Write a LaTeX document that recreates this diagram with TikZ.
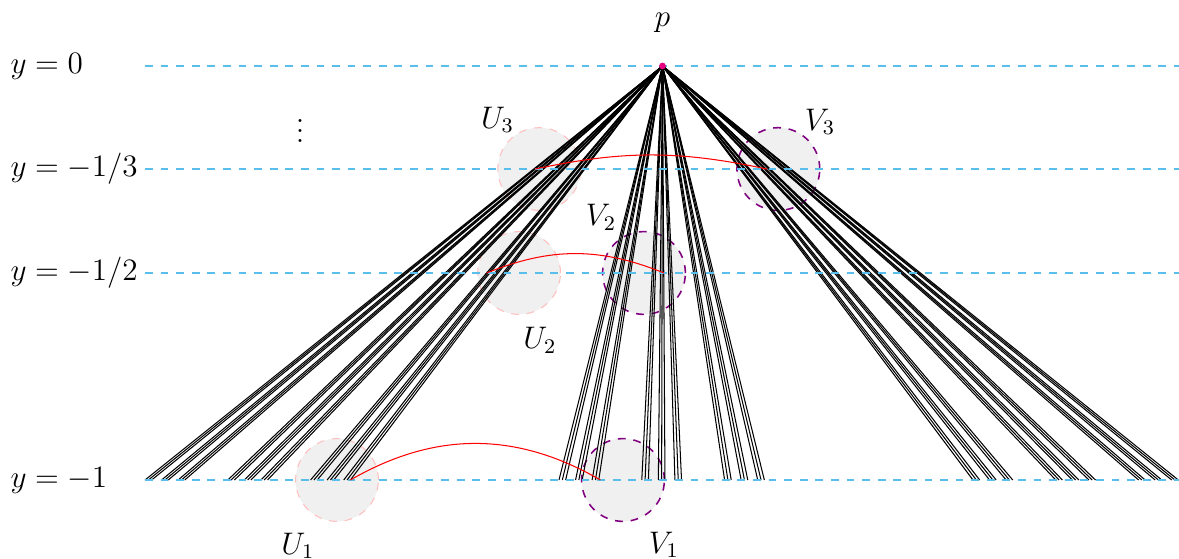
\documentclass[tikz,border=0pt]{standalone}
\usepackage{amsmath}
\usepackage{amsfonts}
\usepackage{tikz}
\usetikzlibrary{shapes, positioning}
\definecolor{lvlblue}{RGB}{90,190,235}
\definecolor{apexpink}{RGB}{230,0,126}
\tikzstyle{every node}=[font=\large]
\tikzstyle{levelline}=[lvlblue, semithick, dashed]
\tikzstyle{ray}=[black, thin]
\tikzstyle{link}=[red, thin]
\tikzstyle{uset}=[circle, draw=red!25, dashed, fill=black!6, minimum size=1.12cm, inner sep=0pt]
\tikzstyle{vset}=[circle, draw=violet, semithick, dashed, fill=black!6, minimum size=1.12cm, inner sep=0pt]
\tikzstyle{apex}=[circle, fill=apexpink, inner sep=0pt, minimum size=2.6pt]
\tikzstyle{ylab}=[anchor=west, inner sep=0pt]

\begin{document}
\begin{tikzpicture}[x=14cm, y=5.6cm]
    \useasboundingbox (-0.1401,0.1594) rectangle (0.99903,-1.1908);
    \coordinate (p) at (0.5,0);
    \node[uset] (U1) at (0.1855,-1) {};
    \node[vset] (V1) at (0.4618,-1) {};
    \node[uset] (U2) at (0.3614,-0.5) {};
    \node[vset] (V2) at (0.4821,-0.5) {};
    \node[uset] (U3) at (0.3809,-0.249) {};
    \node[vset] (V3) at (0.6119,-0.249) {};
    \foreach \a in {0,2,4}
      \foreach \b in {0,2,4}
        \foreach \c in {0,2,4}
          \foreach \d in {0,2,4}
            \draw[ray] (p) -- ({\a/5+\b/25+\c/125+\d/625},-1);
    \coordinate (l0a) at (0,0);
    \coordinate (l0b) at (1,0);
    \coordinate (l3a) at (0,-0.249);
    \coordinate (l3b) at (1,-0.249);
    \coordinate (l2a) at (0,-0.5);
    \coordinate (l2b) at (1,-0.5);
    \coordinate (l1a) at (0,-1);
    \coordinate (l1b) at (1,-1);
    \draw[levelline] (l0a) -- (l0b);
    \draw[levelline] (l3a) -- (l3b);
    \draw[levelline] (l2a) -- (l2b);
    \draw[levelline] (l1a) -- (l1b);
    \node[ylab] (ly0) at (-0.1304,0) {$y=0$};
    \node[ylab] (ly3) at (-0.1304,-0.249) {$y=-1/3$};
    \node[ylab] (ly2) at (-0.1304,-0.5) {$y=-1/2$};
    \node[ylab] (ly1) at (-0.1304,-1) {$y=-1$};
    \node[anchor=base] (dots) at (0.1498,-0.186) {$\vdots$};
    \coordinate (u1) at (0.1984,-1);
    \coordinate (v1) at (0.44,-1);
    \coordinate (u2) at (0.3301,-0.5);
    \coordinate (v2) at (0.5014,-0.5);
    \coordinate (u3) at (0.3768,-0.249);
    \coordinate (v3) at (0.601,-0.249);
    \draw[link] (u1) to[bend left=30] (v1);
    \draw[link] (u2) to[bend left=22] (v2);
    \draw[link] (u3) to[bend left=12] (v3);
    \node (lU1) at (0.1478,-1.159) {$U_1$};
    \node (lV1) at (0.5014,-1.157) {$V_1$};
    \node (lU2) at (0.3816,-0.662) {$U_2$};
    \node (lV2) at (0.4406,-0.365) {$V_2$};
    \node (lU3) at (0.3406,-0.130) {$U_3$};
    \node (lV3) at (0.6522,-0.135) {$V_3$};
    \node (lp) at (0.5,0.104) {$p$};
    \node[apex] (pdot) at (p) {};
\end{tikzpicture}
\end{document}
